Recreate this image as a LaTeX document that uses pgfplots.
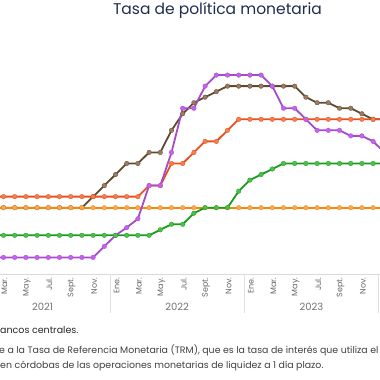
\documentclass[border=0pt]{standalone}
\usepackage{fontspec}
\setmainfont{Poppins}
\usepackage{pgfplots}
\pgfplotsset{compat=1.18}
\definecolor{brL}{HTML}{5E4A2E}
\definecolor{brM}{HTML}{9C7A66}
\definecolor{orL}{HTML}{F28A12}
\definecolor{orM}{HTML}{F8A84E}
\definecolor{rdL}{HTML}{E8501E}
\definecolor{rdM}{HTML}{F57D4E}
\definecolor{puL}{HTML}{A64BC8}
\definecolor{puM}{HTML}{C561F0}
\definecolor{grL}{HTML}{1A9A1A}
\definecolor{grM}{HTML}{4CC04C}
\definecolor{ttl}{HTML}{1F2D4D}
\begin{document}
\begin{tikzpicture}
\clip (0,0) rectangle (380pt,380pt);
\begin{axis}[at={(0pt,106pt)}, anchor=south west, scale only axis,
  width=380pt, height=274pt,
  xmin=-0.3125, xmax=33.616, ymin=0, ymax=12.398,
  axis x line*=bottom, axis y line=none,
  x axis line style={draw=black!15, line width=0.6pt},
  xtick={0,2,...,32},
  xticklabels={Mar.,May.,Jul.,Sept.,Nov.,Ene.,Mar.,May.,Jul.,Sept.,Nov.,Ene.,Mar.,May.,Jul.,Sept.,Nov.},
  major tick length=0pt,
  xticklabel style={rotate=90, anchor=east, font=\fontsize{8}{9}\selectfont, text=black!60, yshift=-1pt},
  every axis plot/.append style={line width=1.8pt, mark=*, mark size=2.3pt},
]
% Brown
\addplot[brL, mark options={fill=brM, draw=brL, line width=0.3pt}] coordinates {
(-1,3.0)(0,3.0)(1,3.0)(2,3.0)(3,3.0)(4,3.0)(5,3.0)(6,3.0)(7,3.0)(8,3.5)(9,4.0)
(10,4.5)(11,5.0)(12,5.0)(13,5.5)(14,5.5)(15,6.5)(16,7.25)(17,7.75)(18,8.0)(19,8.25)
(20,8.5)(21,8.5)(22,8.5)(23,8.5)(24,8.5)(25,8.5)(26,8.5)(27,8.0)(28,7.75)(29,7.75)
(30,7.5)(31,7.5)(32,7.25)(33,7.0)(34,7.0)};
% Orange
\addplot[orL, mark options={fill=orM, draw=orL, line width=0.3pt}] coordinates {
(-1,3)(0,3)(1,3)(2,3)(3,3)(4,3)(5,3)(6,3)(7,3)(8,3)(9,3)(10,3)(11,3)(12,3)(13,3)(14,3)
(15,3)(16,3)(17,3)(18,3)(19,3)(20,3)(21,3)(22,3)(23,3)(24,3)(25,3)(26,3)(27,3)(28,3)
(29,3)(30,3)(31,3)(32,3)(33,3)(34,3)};
% Red
\addplot[rdL, mark options={fill=rdM, draw=rdL, line width=0.3pt}] coordinates {
(-1,3.5)(0,3.5)(1,3.5)(2,3.5)(3,3.5)(4,3.5)(5,3.5)(6,3.5)(7,3.5)(8,3.5)(9,3.5)(10,3.5)
(11,3.5)(12,3.5)(13,4.0)(14,4.0)(15,5.0)(16,5.0)(17,5.5)(18,6.0)(19,6.0)(20,6.5)
(21,7)(22,7)(23,7)(24,7)(25,7)(26,7)(27,7)(28,7)(29,7)(30,7)(31,7)(32,7)(33,7)(34,7)};
% Purple
\addplot[puL, mark options={fill=puM, draw=puL, line width=0.3pt}] coordinates {
(-1,0.75)(0,0.75)(1,0.75)(2,0.75)(3,0.75)(4,0.75)(5,0.75)(6,0.75)(7,0.75)(8,0.75)
(9,1.25)(10,1.75)(11,2.1)(12,2.5)(13,4.0)(14,4.0)(15,5.5)(16,7.5)(17,7.5)(18,8.5)
(19,9)(20,9)(21,9)(22,9)(23,9)(24,8.5)(25,7.5)(26,7.5)(27,7.0)(28,6.5)(29,6.5)(30,6.5)
(31,6.25)(32,6.25)(33,6.0)(34,5.5)};
% Green
\addplot[grL, mark options={fill=grM, draw=grL, line width=0.3pt}] coordinates {
(-1,1.75)(0,1.75)(1,1.75)(2,1.75)(3,1.75)(4,1.75)(5,1.75)(6,1.75)(7,1.75)(8,1.75)
(9,1.75)(10,1.75)(11,1.75)(12,1.75)(13,1.75)(14,2.0)(15,2.25)(16,2.25)(17,2.75)
(18,3.0)(19,3.0)(20,3.0)(21,3.75)(22,4.25)(23,4.5)(24,4.75)(25,5)(26,5)(27,5)(28,5)
(29,5)(30,5)(31,5)(32,5)(33,5)(34,5)};
\coordinate (s0) at (axis cs:-2.5,0);
\coordinate (s1) at (axis cs:9.5,0);
\coordinate (s2) at (axis cs:21.5,0);
\coordinate (s3) at (axis cs:33.5,0);
\coordinate (y1) at (axis cs:3.5,0);
\coordinate (y2) at (axis cs:15.5,0);
\coordinate (y3) at (axis cs:27.5,0);
\end{axis}
\foreach \s in {s0,s1,s2,s3} \draw[black!12, line width=0.6pt] (\s) -- ++(0,-39pt);
\foreach \y/\t in {y1/2021,y2/2022,y3/2023}
  \node[font=\fontsize{10}{12}\selectfont, text=black!55] at ([yshift=-33pt]\y) {\t};
\node[anchor=base, font=\fontsize{15.5}{17}\selectfont, text=ttl] at (217.5pt,365pt) {Tasa de política monetaria};
\node[anchor=base west, inner sep=0pt, font=\fontsize{9.5}{11}\selectfont, text=black!85] at (0pt,46.7pt) {ancos centrales.};
\node[anchor=base west, inner sep=0pt, font=\fontsize{9.4}{11}\selectfont, text=black!75] at (-1pt,26.7pt) {e a la Tasa de Referencia Monetaria (TRM), que es la tasa de interés que utiliza el};
\node[anchor=base west, inner sep=0pt, font=\fontsize{9.4}{11}\selectfont, text=black!75] at (0pt,11pt) {en córdobas de las operaciones monetarias de liquidez a 1 día plazo.};
\end{tikzpicture}
\end{document}
